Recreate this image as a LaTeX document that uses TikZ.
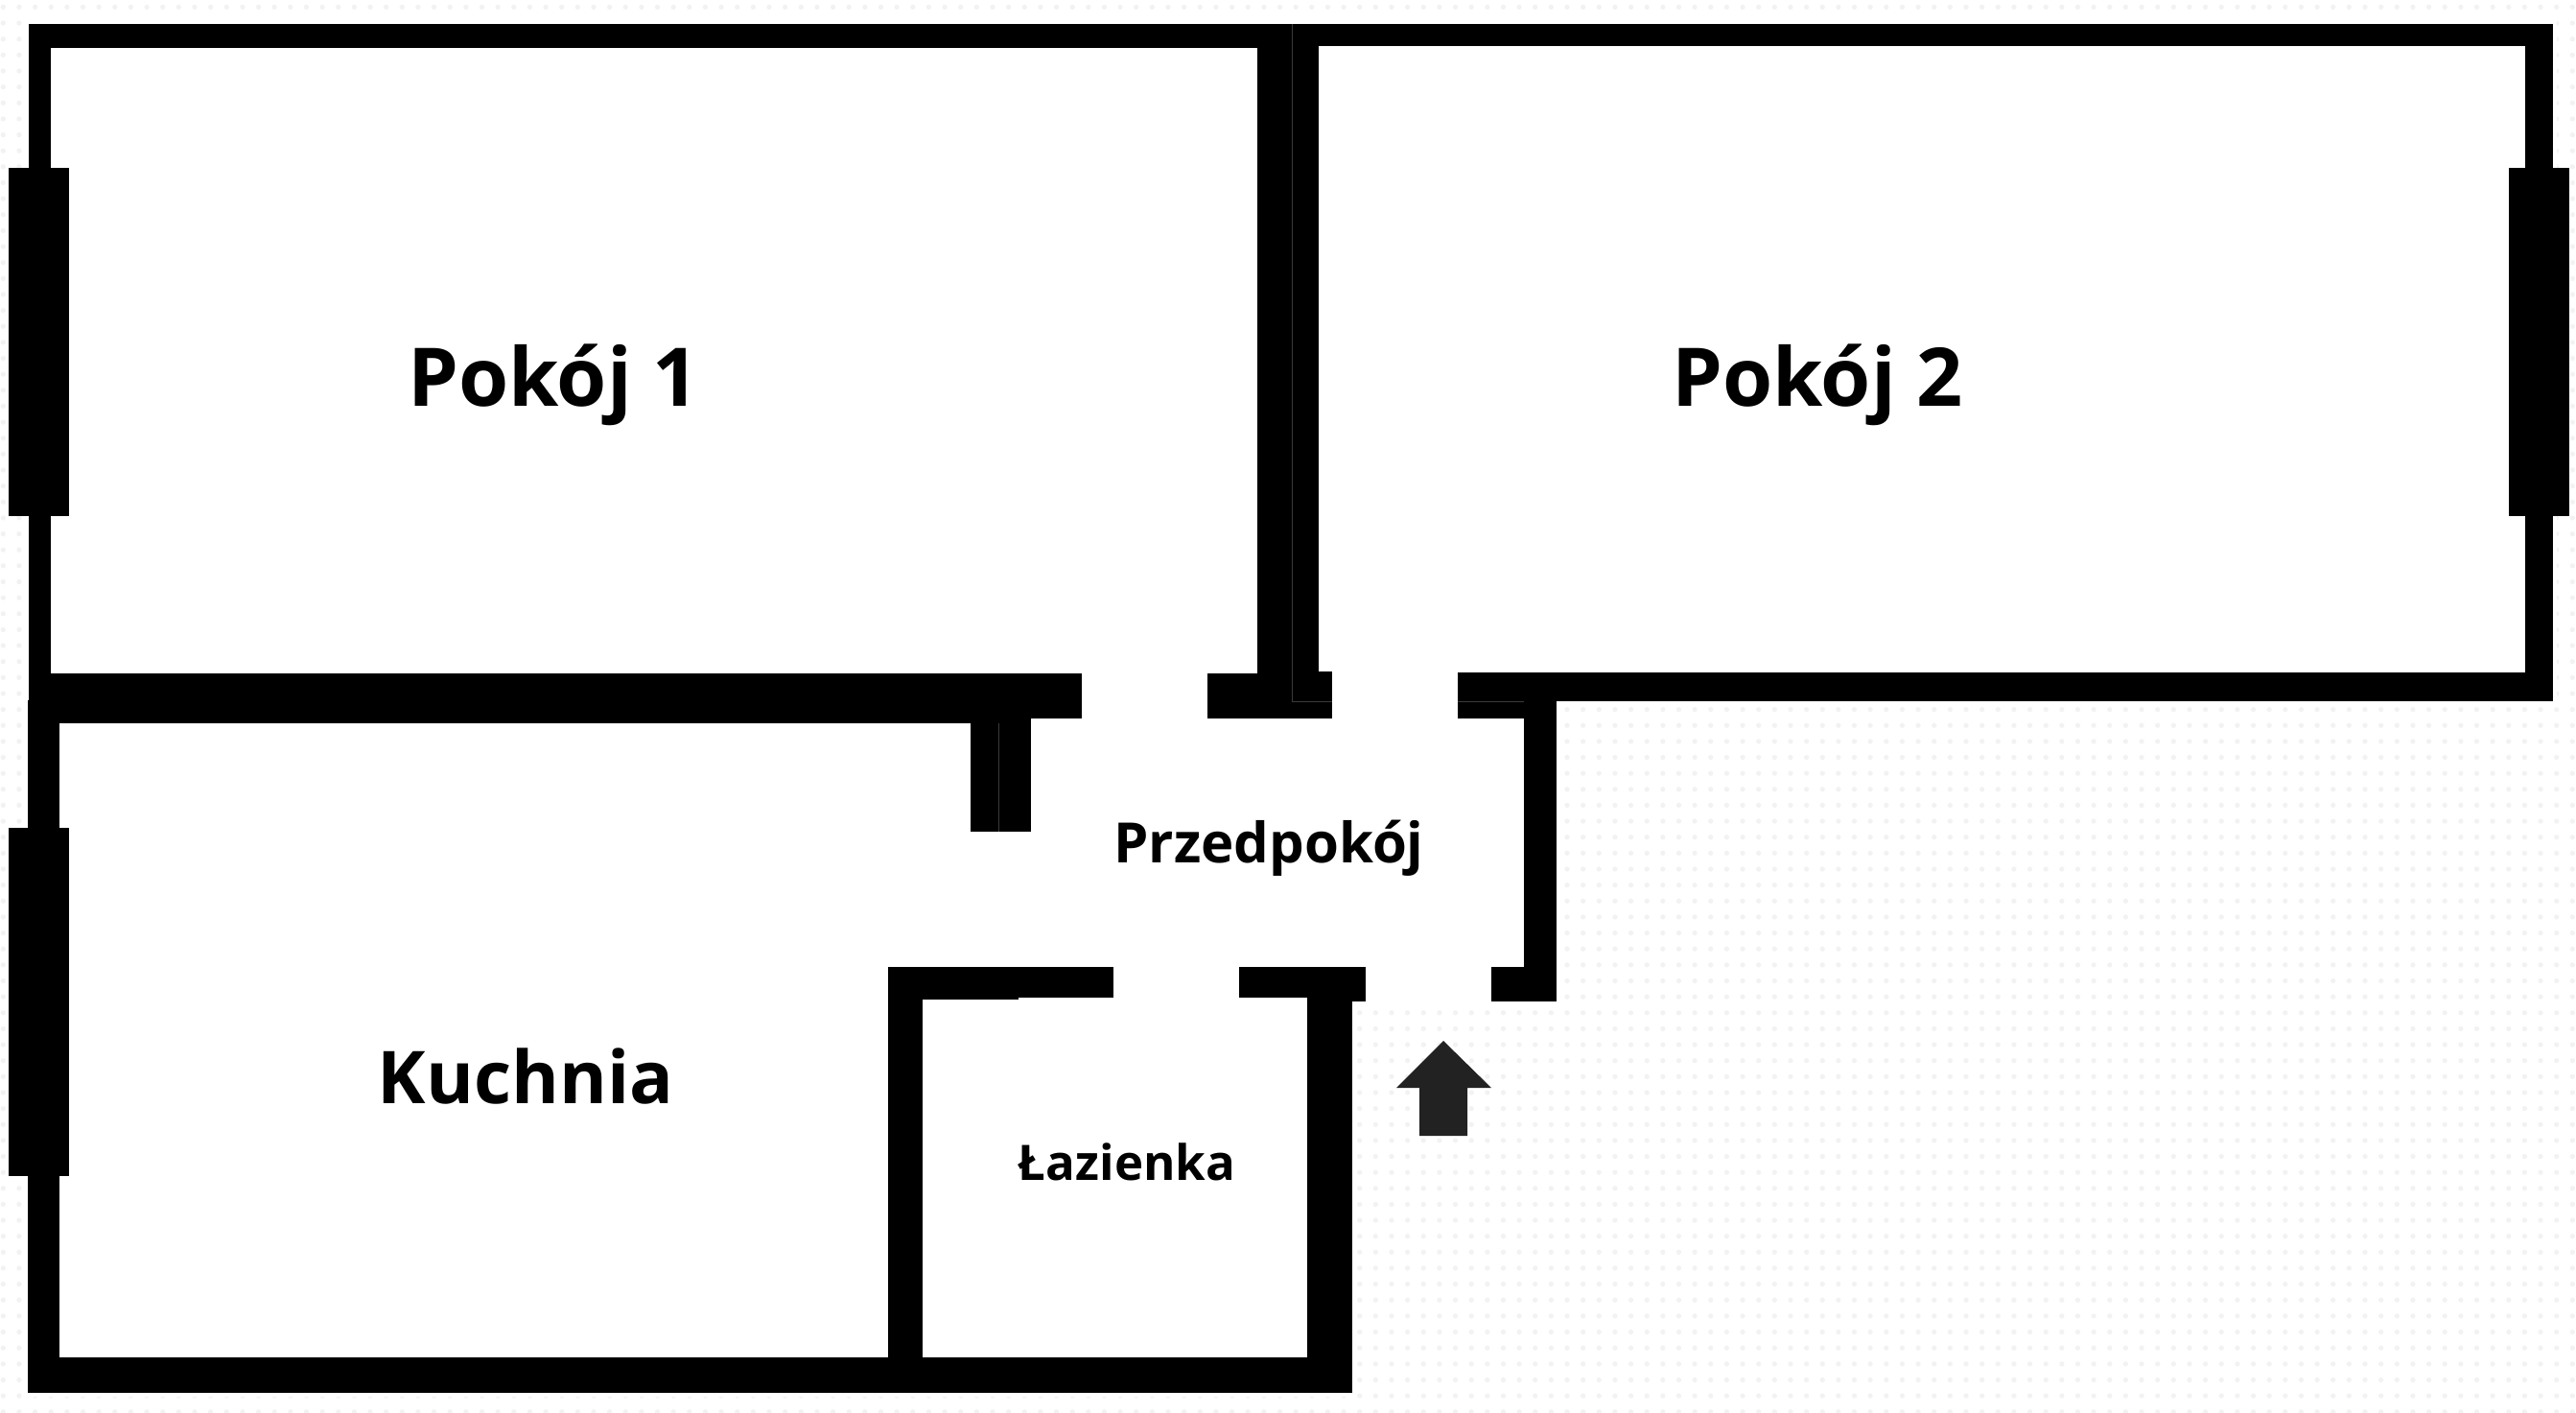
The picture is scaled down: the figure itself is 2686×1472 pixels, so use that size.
\documentclass[tikz,border=0pt]{standalone}
\usepackage{fontspec}
\usetikzlibrary{patterns}
\setmainfont{Open Sans}
\definecolor{dotgray}{HTML}{F2F2F2}
\definecolor{arrowgray}{HTML}{222222}
\definecolor{seamgray}{HTML}{3A3A3A}
\pgfdeclarepatternformonly{griddots}{\pgfqpoint{-1pt}{-1pt}}{\pgfqpoint{3.7317pt}{3.7317pt}}{\pgfqpoint{4.7317pt}{4.7317pt}}{%
  \pgfpathcircle{\pgfqpoint{0.94pt}{0.07pt}}{0.74pt}\pgfusepath{fill}}
\tikzset{
  wall/.style={fill=black,draw=none},
  seam/.style={draw=seamgray,line width=0.2pt},
  roomlabel/.style={anchor=base,inner sep=0pt},
  pokojfont/.style={font=\fontsize{24pt}{28pt}\selectfont\bfseries},
  kuchniafont/.style={font=\fontsize{21.6pt}{26pt}\selectfont\bfseries},
  hallfont/.style={font=\fontsize{16.5pt}{20pt}\selectfont\bfseries},
  bathfont/.style={font=\fontsize{14.5pt}{18pt}\selectfont\bfseries},
}
\begin{document}
\begin{tikzpicture}[x=0.01cm,y=-0.01cm]
\useasboundingbox (0,0) rectangle (2686,1472);
\fill[white] (0,0) rectangle (2686,1472);
% faint dot grid
\fill[pattern=griddots,pattern color=dotgray] (0,0) rectangle (2686,1472);
% apartment interior is plain white
\fill[white] (26,21) -- (2666,21) -- (2666,735) -- (1628,735) -- (1628,1049) -- (1414,1049)
  -- (1414,1456) -- (25,1456) -- (25,730) -- cycle;
% outer walls
\fill[wall] (30,25) rectangle (1347,50);
\fill[wall] (1347,25) rectangle (2662,48);
\fill[wall] (30,25) rectangle (53,702);
\fill[wall] (2633,25) rectangle (2662,731);
\fill[wall] (1520,701) rectangle (2662,731);
% wall between the rooms
\fill[wall] (1311,25) rectangle (1347,749);
\fill[wall] (1347,25) rectangle (1375,700);
\fill[wall] (1347,700) rectangle (1389,749);
\fill[wall] (1259,702) rectangle (1347,749);
% wall between Pokoj 1 and Kuchnia
\fill[wall] (30,702) rectangle (1128,749);
\fill[wall] (29,749) rectangle (1074.5,754);
\fill[wall] (1012,754) rectangle (1041.5,867);
\fill[wall] (1041.5,749) rectangle (1074.5,867);
% entrance wall
\fill[wall] (1520,731) rectangle (1623,749);
\fill[wall] (1589,731) rectangle (1623,1044);
\fill[wall] (1555,1008) rectangle (1623,1044);
% lower outer walls
\fill[wall] (29,730) rectangle (62,1452);
\fill[wall] (29,1415) rectangle (1410,1452);
% bathroom
\fill[wall] (926,1008) rectangle (962,1415);
\fill[wall] (962,1008) rectangle (1161,1040);
\fill[wall] (962,1040) rectangle (1062,1042);
\fill[wall] (1292,1008) rectangle (1424,1040);
\fill[wall] (1363,1040) rectangle (1424,1044);
\fill[wall] (1363,1044) rectangle (1410,1415);
% windows
\fill[wall] (8.5,175) rectangle (72,538);
\fill[wall] (8.5,863) rectangle (72,1226);
\fill[wall] (2616,175) rectangle (2679,538);
% seams
\draw[seam] (1347,25) -- (1347,731) -- (1389,731);
\draw[seam] (1041.5,754) -- (1041.5,867);
\draw[seam] (1520,731) -- (1589,731);
% entrance arrow
\fill[arrowgray] (1505,1085) -- (1555,1134) -- (1530,1134) -- (1530,1184) -- (1480,1184) -- (1480,1134) -- (1456,1134) -- cycle;
% labels
\node[roomlabel,pokojfont] (pokoj1) at (577,423) {Pokój 1};
\node[roomlabel,pokojfont] (pokoj2) at (1895,423) {Pokój 2};
\node[roomlabel,kuchniafont] (kuchnia) at (548,1150) {Kuchnia};
\node[roomlabel,hallfont] (przedpokoj) at (1323,899) {Przedpokój};
\node[roomlabel,bathfont] (lazienka) at (1175,1230) {Łazienka};
\end{tikzpicture}
\end{document}
